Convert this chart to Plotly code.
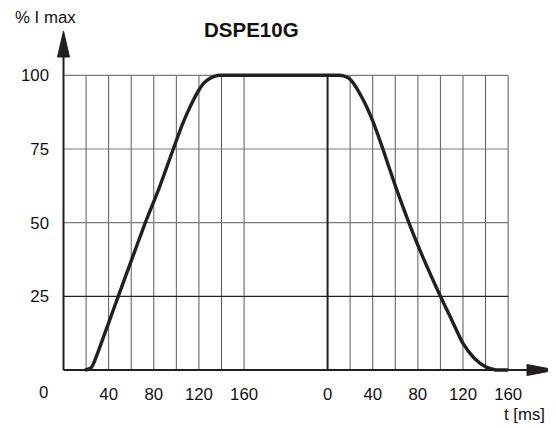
import plotly.graph_objects as go

# ---- data ----
# rising edge (left panel, t in ms)
rise_t = [19, 22, 25, 27, 30, 40, 48.5, 60, 72, 85, 97.3, 105, 110, 115, 120, 125, 130, 135, 139, 160]
rise_y = [0, 0.3, 1, 2.5, 5.5, 16, 25, 37, 49.5, 62, 75, 83, 87.5, 91.5, 95, 97.6, 99, 99.8, 100, 100]
# falling edge (right panel, t in ms from its own 0)
fall_t = [0, 10, 14, 18, 22, 26, 30, 35, 40, 49, 60, 71, 82, 100, 110, 120, 130, 140, 148, 152, 160]
fall_y = [100, 100, 99.8, 99.2, 97.8, 95.5, 92.8, 89, 84.5, 75, 62.5, 51, 40.5, 25, 17, 9, 4, 1.1, 0.1, 0, 0]

left_ticks = [40, 80, 120, 160]
right_ticks = [0, 40, 80, 120, 160]
grid_t = [20, 40, 60, 80, 100, 120, 140, 160]
y_ticks = [25, 50, 75, 100]
title = "DSPE10G"

# ---- layout geometry (screen pixels; the page has an 8px body margin) ----
PAGE = 8
OFFSET = 234          # where the right panel's t=0 sits on the shared axis
PX_X = 1.1285         # pixels per ms
PX_Y = 2.947          # pixels per %
X0_PX = 63.5 - PAGE
Y0_PX = 370.0 - PAGE
W, H = 556 - PAGE, 428 - PAGE
ML, MR, MT, MB = 42, 0, 22, 46
PW, PH = W - ML - MR, H - MT - MB
xr = [-(X0_PX - ML) / PX_X, (W - MR - X0_PX) / PX_X]
yr = [-((H - MB) - Y0_PX) / PX_Y, (Y0_PX - MT) / PX_Y]

FONT = "Liberation Sans"
INK = "#231f20"
FS = 16.8

xs = rise_t + [OFFSET + t for t in fall_t]
ys = rise_y + fall_y

fig = go.Figure()

shapes = []
xend = OFFSET + 160
# vertical grid lines
for t in grid_t:
    for base in (0, OFFSET):
        shapes.append(dict(type="line", xref="x", yref="y", x0=base + t, x1=base + t,
                           y0=0, y1=100, line=dict(color="#5a5a5a", width=1), layer="below"))
# horizontal grid lines
for v in y_ticks:
    col = "#222222" if v == 25 else "#7a7a7a"
    shapes.append(dict(type="line", xref="x", yref="y", x0=0, x1=xend, y0=v, y1=v,
                       line=dict(color=col, width=1.2), layer="below"))
# right panel zero line (thick)
shapes.append(dict(type="line", xref="x", yref="y", x0=OFFSET, x1=OFFSET, y0=0, y1=100,
                   line=dict(color=INK, width=2)))


def sx(px):  # screen x -> data x
    return (px - PAGE - X0_PX) / PX_X


def sy(py):  # screen y -> data y
    return (Y0_PX - (py - PAGE)) / PX_Y


# axes
ax_tip_y = sy(31)
ax_base_y = sy(57)
hw_x = 6 / PX_X
shapes.append(dict(type="line", xref="x", yref="y", x0=0, x1=0, y0=0, y1=ax_base_y + 1,
                   line=dict(color=INK, width=2)))
ax_tip_x = sx(556)
ax_base_x = sx(527)
hh_y = 5.5 / PX_Y
shapes.append(dict(type="line", xref="x", yref="y", x0=0, x1=ax_base_x + 1, y0=0, y1=0,
                   line=dict(color=INK, width=2)))
# arrow heads
shapes.append(dict(type="path", xref="x", yref="y",
                   path=f"M {-hw_x} {ax_base_y} L 0 {ax_tip_y} L {hw_x} {ax_base_y} Z",
                   fillcolor=INK, line=dict(color=INK, width=1)))
shapes.append(dict(type="path", xref="x", yref="y",
                   path=f"M {ax_base_x} {-hh_y} L {ax_tip_x} 0 L {ax_base_x} {hh_y} Z",
                   fillcolor=INK, line=dict(color=INK, width=1)))

fig.add_trace(go.Scatter(x=xs, y=ys, mode="lines",
                         line=dict(color=INK, width=3.4, shape="spline", smoothing=0.6),
                         hoverinfo="skip", showlegend=False))


def pxp(px):  # screen x -> paper
    return (px - PAGE - ML) / PW


def pyp(py):  # screen y -> paper
    return (H - MB - (py - PAGE)) / PH


def label(text, px, py, size=FS):
    return dict(text=text, x=pxp(px), y=pyp(py), xref="paper", yref="paper",
                xanchor="center", yanchor="middle", showarrow=False,
                font=dict(size=size, color="#111", family=FONT))


annotations = [
    label(f"<b>{title}</b>", 251, 29.5, size=20.5),
    label("% I max", 45, 17),
    label("t [ms]", 524, 414),
    label("0", 43, 392),
]

fig.update_layout(
    template="none",
    width=W, height=H,
    margin=dict(l=ML, r=MR, t=MT, b=MB, pad=0, autoexpand=False),
    paper_bgcolor="white", plot_bgcolor="white",
    font=dict(family=FONT, size=FS, color="#111"),
    shapes=shapes, annotations=annotations,
    xaxis=dict(range=xr, showgrid=False, zeroline=False, showline=False, automargin=False,
               tickvals=left_ticks + [OFFSET + t for t in right_ticks],
               ticktext=[str(t) for t in left_ticks] + [str(t) for t in right_ticks],
               ticks="", tickfont=dict(size=FS, color="#111", family=FONT), fixedrange=True),
    yaxis=dict(range=yr, showgrid=False, zeroline=False, showline=False, automargin=False,
               tickvals=y_ticks, ticktext=[str(v) for v in y_ticks],
               ticks="", tickfont=dict(size=FS, color="#111", family=FONT), fixedrange=True),
)

fig.write_html("out.html")
